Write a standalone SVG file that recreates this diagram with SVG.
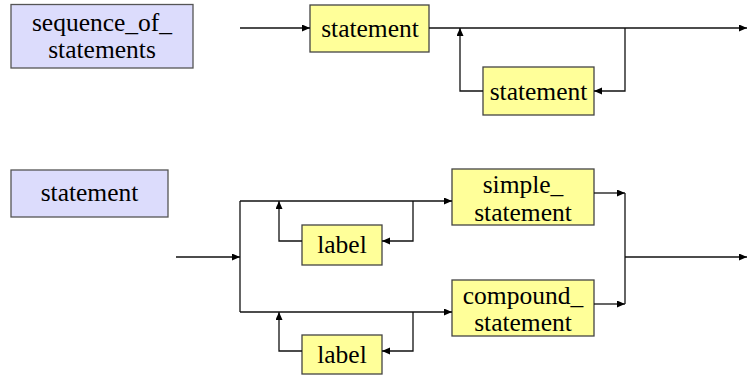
<svg xmlns="http://www.w3.org/2000/svg" width="747" height="377" viewBox="0 0 747 377">
<defs>
<marker id="ah" markerUnits="userSpaceOnUse" markerWidth="9" markerHeight="8" refX="8" refY="3.5" orient="auto">
<path d="M0,0 L8,3.5 L0,7 z" fill="#000"/>
</marker>
</defs>
<style>
.def{fill:#dcdcfc;stroke:#555;stroke-width:1.3}
.term{fill:#ffff99;stroke:#444;stroke-width:1.3}
.t{font-family:'Liberation Serif','Times New Roman',Times,serif;font-size:25.5px;fill:#000;text-anchor:middle}
.c path{fill:none;stroke:#111;stroke-width:1.3}
</style>
<rect width="747" height="377" fill="#fff"/>
<g id="n_seq_def"><rect class="def" x="11" y="4.5" width="182" height="63.5"/><text class="t" x="102" y="31">sequence_of_</text><text class="t" x="102" y="58">statements</text></g>
<g id="n_stmt1"><rect class="term" x="310" y="5" width="119" height="47"/><text class="t" x="370" y="37">statement</text></g>
<g id="n_stmt2"><rect class="term" x="483" y="67" width="111" height="48"/><text class="t" x="538.5" y="100">statement</text></g>
<g id="n_stmt_def"><rect class="def" x="11" y="170" width="157" height="47"/><text class="t" x="89.5" y="201">statement</text></g>
<g id="n_simple"><rect class="term" x="452" y="169" width="142" height="56"/><text class="t" x="523" y="193">simple_</text><text class="t" x="523" y="220.5">statement</text></g>
<g id="n_compound"><rect class="term" x="452" y="280" width="142" height="56"/><text class="t" x="523" y="304">compound_</text><text class="t" x="523" y="331">statement</text></g>
<g id="n_label1"><rect class="term" x="302" y="225" width="80" height="40"/><text class="t" x="342" y="253">label</text></g>
<g id="n_label2"><rect class="term" x="302" y="335" width="80" height="39"/><text class="t" x="342" y="363">label</text></g>
<g id="connectors" class="c">
<path d="M240,28 H310" marker-end="url(#ah)"/>
<path d="M429,28 H747" marker-end="url(#ah)"/>
<path d="M625,28 V91 H594" marker-end="url(#ah)"/>
<path d="M483,91 H460 V28" marker-end="url(#ah)"/>
<path d="M176,257 H240" marker-end="url(#ah)"/>
<path d="M240,201 V312"/>
<path d="M240,201 H452" marker-end="url(#ah)"/>
<path d="M240,312 H452" marker-end="url(#ah)"/>
<path d="M413,201 V241 H382" marker-end="url(#ah)"/>
<path d="M302,241 H279 V201" marker-end="url(#ah)"/>
<path d="M413,312 V351 H382" marker-end="url(#ah)"/>
<path d="M302,351 H279 V312" marker-end="url(#ah)"/>
<path d="M594,193 H625" marker-end="url(#ah)"/>
<path d="M594,304 H625" marker-end="url(#ah)"/>
<path d="M625,193 V304"/>
<path d="M625,257 H747" marker-end="url(#ah)"/>
</g>
</svg>
